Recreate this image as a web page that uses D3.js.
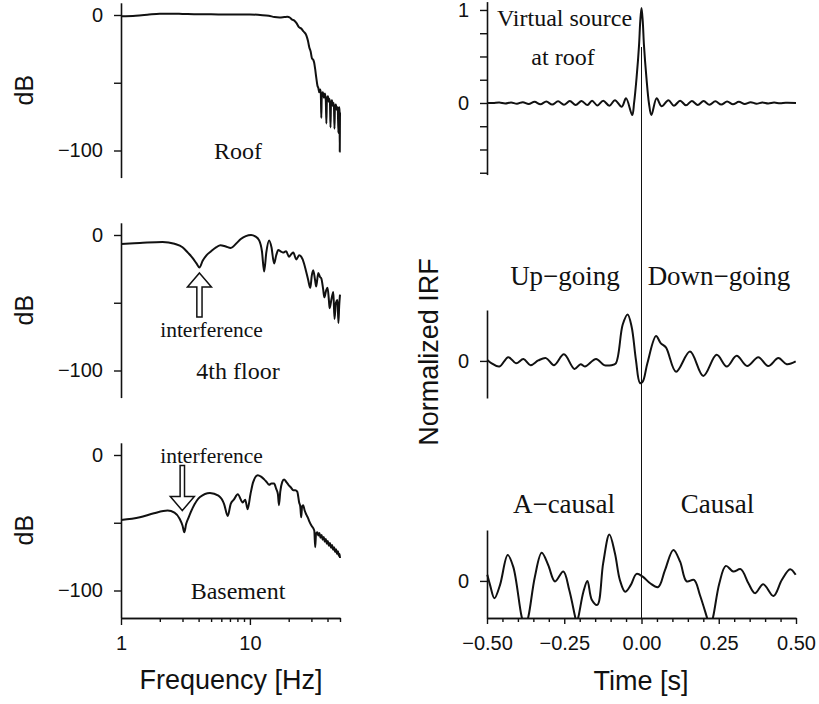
<!DOCTYPE html>
<html>
<head>
<meta charset="utf-8">
<title>Spectra and impulse response functions</title>
<script src="https://d3js.org/d3.v7.min.js"></script>
<style>
  body { margin: 0; background: #fff; }
  .tick text { font-family: "Liberation Sans", Arial, sans-serif; font-size: 20px; fill: #111; }
  .title { font-family: "Liberation Sans", Arial, sans-serif; fill: #111; }
  .note { font-family: "Liberation Serif", "Times New Roman", serif; fill: #111; }
</style>
</head>
<body>
<svg id="chart" width="819" height="704"></svg>
<script>
// ---- data ----
// amplitude spectra [frequency Hz, dB]
const roofSpectrum = [[1,-1],[1.3,-0.5],[1.6,0.2],[2,1],[2.5,1],[3,0.8],[4,0.5],[5,0.5],[6.5,0.3],[8,0.3],[10,0.4],[12,0],[14,-0.5],[15.5,-1.5],[17,-1.8],[18.5,-1.5],[19.5,-1.3],[20.5,-2],[21.3,-3.5],[22,-4],[23,-6],[24,-9],[25,-10],[26,-12],[27.4,-15],[28.2,-19],[28.9,-24],[29.6,-27],[30.3,-32],[31,-33],[31.5,-35],[32.1,-40],[32.7,-46],[33.4,-52],[34,-54],[34.5,-57],[35.1,-55],[35.5,-58],[35.8,-76],[36.1,-60],[36.8,-57],[37.5,-61],[38.2,-58],[38.8,-63],[39.2,-80],[39.6,-62],[40.3,-60],[41,-64],[41.7,-62],[42.2,-83],[42.6,-65],[43.3,-63],[44,-67],[44.8,-65],[45.3,-84],[45.7,-68],[46.4,-66],[47.2,-70],[48,-68],[48.6,-87],[48.9,-70],[49.3,-68],[49.6,-71],[49.8,-101],[50,-72]];
const floor4Spectrum = [[1,-6.6],[1.4,-5.9],[2.1,-5.1],[2.6,-6.5],[3.0,-9],[3.3,-13],[3.6,-17],[3.85,-21],[4.06,-24],[4.3,-19],[4.6,-15],[5.0,-12],[5.5,-9],[5.9,-7.5],[6.5,-8.5],[7.1,-9.6],[7.8,-6.5],[8.5,-3],[9.3,-0.8],[10.2,0],[11,-1],[11.8,-4],[12.4,-12],[12.9,-27],[13.4,-13],[14.1,-4],[14.7,-9],[15.4,-21],[16,-15],[16.6,-11],[17.3,-12],[18.1,-13],[19.1,-12],[20.1,-16],[21,-14],[21.7,-13],[22.9,-18],[24.1,-15],[25,-16],[26.3,-21],[27.3,-27],[28.3,-33],[29.4,-39],[30.2,-30],[31,-26],[32,-33],[32.7,-38],[33.9,-28],[35,-31],[35.8,-32],[37,-40],[37.8,-46],[39,-41],[40,-39],[41,-48],[41.5,-54],[43,-47],[44.4,-42],[45.3,-62],[46.5,-50],[47.8,-48],[48.6,-65],[49.3,-52],[50,-44]];
const basementSpectrum = [[1,-48],[1.4,-46],[1.8,-43],[2.3,-41],[2.6,-42.5],[2.85,-47],[3.0,-52],[3.1,-57],[3.2,-51],[3.35,-46],[3.6,-39],[4.1,-31],[4.9,-28],[5.7,-30],[6.3,-36],[6.73,-45],[7.1,-36],[7.5,-33],[8.05,-29],[8.8,-35],[9.2,-33],[9.6,-40],[10.1,-29],[10.6,-20],[11.5,-15],[12.2,-16],[12.9,-18],[13.5,-20],[14.1,-22],[14.7,-21],[15.4,-21],[16,-25],[16.5,-29],[16.8,-37],[17.2,-27],[17.8,-20],[18.4,-18],[19.2,-20],[19.9,-22],[20.8,-24],[21.7,-26],[22.5,-26],[23.3,-27],[24.1,-35],[24.6,-38],[25,-46],[25.4,-38],[25.9,-37],[26.6,-41],[27.4,-44],[28.1,-46],[28.9,-49],[30,-52],[31,-54],[31.6,-56],[32.1,-68],[32.6,-58],[33.3,-57],[34,-59.5],[34.6,-57.5],[35.3,-61],[36,-59],[36.7,-62.5],[37.4,-60.5],[38.1,-64],[38.8,-62],[39.5,-65.5],[40.2,-63.5],[41,-67],[41.8,-65],[42.6,-68.5],[43.4,-66.5],[44.2,-70],[45,-68],[45.8,-71.5],[46.6,-69.5],[47.4,-73],[48.2,-71],[49,-74.5],[49.6,-73],[50,-76]];

// normalized impulse response functions [time s, amplitude]
const irfRoof = [[-0.5,0],[-0.48,0],[-0.46,0.004],[-0.441,-0.005],[-0.422,0.006],[-0.403,-0.008],[-0.384,0.009],[-0.365,-0.011],[-0.346,0.012],[-0.327,-0.014],[-0.308,0.015],[-0.289,-0.017],[-0.27,0.018],[-0.251,-0.019],[-0.232,0.02],[-0.213,-0.021],[-0.194,0.022],[-0.175,-0.023],[-0.16,0.024],[-0.143,-0.026],[-0.124,0.025],[-0.104,-0.03],[-0.086,0.03],[-0.064,-0.04],[-0.05,0.05],[-0.03,-0.13],[-0.024,0],[-0.016,0.27],[-0.008,0.62],[-0.004,0.88],[0,1.02],[0.004,0.88],[0.008,0.62],[0.016,0.27],[0.024,0],[0.032,-0.13],[0.049,0.05],[0.065,-0.035],[0.087,0.03],[0.105,-0.03],[0.125,0.025],[0.144,-0.025],[0.163,0.022],[0.182,-0.021],[0.201,0.02],[0.22,-0.019],[0.239,0.018],[0.258,-0.017],[0.277,0.015],[0.296,-0.014],[0.315,0.012],[0.334,-0.011],[0.353,0.009],[0.372,-0.008],[0.391,0.006],[0.41,-0.005],[0.429,0.004],[0.448,-0.003],[0.467,0.002],[0.5,0]];
const irf4th = [[-0.499,0.02],[-0.485,-0.05],[-0.46,-0.12],[-0.431,0.08],[-0.406,-0.05],[-0.382,0.04],[-0.359,-0.09],[-0.334,0.01],[-0.309,0.06],[-0.283,-0.09],[-0.251,0.14],[-0.217,-0.17],[-0.197,-0.07],[-0.183,-0.12],[-0.147,0.04],[-0.121,-0.09],[-0.097,-0.09],[-0.083,-0.05],[-0.061,0.77],[-0.045,0.99],[-0.032,0.73],[-0.018,0.02],[-0.005,-0.47],[0.004,-0.44],[0.019,-0.05],[0.047,0.53],[0.062,0.38],[0.079,0.29],[0.112,-0.23],[0.157,0.2],[0.2,-0.32],[0.243,0.13],[0.276,-0.12],[0.308,0.11],[0.342,-0.11],[0.378,0.08],[0.41,-0.11],[0.443,0.06],[0.47,-0.07],[0.499,-0.01]];
const irfBasement = [[-0.499,0.13],[-0.49,-0.09],[-0.476,-0.37],[-0.458,-0.09],[-0.433,0.55],[-0.415,0.3],[-0.388,-0.76],[-0.377,-1.0],[-0.366,-0.76],[-0.345,0.09],[-0.323,0.6],[-0.302,0.34],[-0.28,-0.01],[-0.253,0.2],[-0.234,-0.19],[-0.215,-0.76],[-0.21,-0.9],[-0.204,-0.76],[-0.188,-0.23],[-0.175,0],[-0.161,-0.4],[-0.143,-0.51],[-0.124,0.38],[-0.104,0.99],[-0.086,0.59],[-0.07,0.02],[-0.053,-0.23],[-0.035,-0.09],[-0.016,0.15],[0.004,0.09],[0.028,-0.05],[0.054,-0.13],[0.076,0.23],[0.103,0.66],[0.125,0.41],[0.146,-0.01],[0.17,0.02],[0.189,-0.3],[0.211,-0.76],[0.222,-1.0],[0.232,-0.76],[0.252,-0.05],[0.273,0.32],[0.297,0.2],[0.321,0.25],[0.346,-0.05],[0.367,-0.26],[0.394,-0.07],[0.427,-0.32],[0.454,0.02],[0.481,0.25],[0.499,0.13]];

// ticks and labels
const dbTicks = [0, -50, -100];
const dbTickLabels = ["0", "", "\u2212100"];
const freqMajorTicks = [1, 10];
const freqTickLabels = ["1", "10"];
const freqMinorTicks = [2, 3, 4, 5, 6, 7, 8, 9, 20, 30, 40, 50];
const timeMajorTicks = [-0.5, -0.25, 0, 0.25, 0.5];
const timeTickLabels = ["\u22120.50", "\u22120.25", "0.00", "0.25", "0.50"];
const timeMinorTicks = [-0.45, -0.4, -0.35, -0.3, -0.2, -0.15, -0.1, -0.05, 0.05, 0.1, 0.15, 0.2, 0.3, 0.35, 0.4, 0.45];
const irfRoofTicks = [-0.75, -0.5, -0.25, 0, 0.25, 0.5, 0.75, 1];
const spectrumNames = ["Roof", "4th floor", "Basement"];
const arrowFreq = [4.06, 2.99];   // interference notch, 4th floor and basement
const arrowDb = [-28, -41];

const svg = d3.select("#chart");

// ---- left column: spectra ----
const fx = d3.scaleLog().domain([1, 50]).range([121, 340]);
const leftTops = [2.8, 222.8, 442.8];
const spectra = [roofSpectrum, floor4Spectrum, basementSpectrum];
const nameY = [159, 379, 599];

function styleAxis(g) {
  g.select(".domain").attr("stroke", "#111").attr("stroke-width", 1.6);
  g.selectAll(".tick line").attr("stroke", "#111").attr("stroke-width", 1.4);
  g.attr("font-family", null).attr("font-size", null);
}

const dbScales = leftTops.map(top => d3.scaleLinear().domain([9, -120]).range([top, top + 174.8]));

dbScales.forEach((y, i) => {
  svg.append("g").attr("transform", "translate(121,0)")
    .call(d3.axisLeft(y).tickValues(dbTicks).tickFormat((d, j) => dbTickLabels[j])
      .tickSize(7).tickSizeOuter(0).tickPadding(11))
    .call(styleAxis);

  svg.append("path").datum(spectra[i])
    .attr("fill", "none").attr("stroke", "#111").attr("stroke-width", 2)
    .attr("stroke-linejoin", "round")
    .attr("d", d3.line().x(d => fx(d[0])).y(d => y(d[1])).curve(d3.curveMonotoneX));

  svg.append("text").attr("class", "note").attr("font-size", 24)
    .attr("x", 238).attr("y", nameY[i]).attr("text-anchor", "middle")
    .text(spectrumNames[i]);

  svg.append("text").attr("class", "title").attr("font-size", 25)
    .attr("text-anchor", "middle")
    .attr("transform", `translate(33,${(y.range()[0] + y.range()[1]) / 2}) rotate(-90)`)
    .text("dB");
});

// frequency axis
svg.append("g").attr("transform", "translate(0,618)")
  .call(d3.axisBottom(fx).tickValues(freqMajorTicks).tickFormat((d, j) => freqTickLabels[j])
    .tickSize(7).tickSizeOuter(0).tickPadding(11))
  .call(styleAxis);
svg.append("g").attr("transform", "translate(0,618)")
  .call(d3.axisBottom(fx).tickValues(freqMinorTicks).tickFormat("").tickSize(4).tickSizeOuter(0))
  .call(styleAxis);

svg.append("text").attr("class", "title").attr("font-size", 27)
  .attr("x", 231).attr("y", 689).attr("text-anchor", "middle").text("Frequency [Hz]");

// interference arrows (hollow)
const upArrow = [[0,0],[12,14],[2.6,14],[2.6,44],[-2.6,44],[-2.6,14],[-12,14]];
const downArrow = [[0,0],[12,-14],[2.2,-14],[2.2,-45],[-2.2,-45],[-2.2,-14],[-12,-14]];
[[upArrow, dbScales[1]], [downArrow, dbScales[2]]].forEach(([shape, y], i) => {
  const tx = fx(arrowFreq[i]), ty = y(arrowDb[i]);
  svg.append("path")
    .attr("d", d3.line()(shape.map(p => [tx + p[0], ty + p[1]])) + "Z")
    .attr("fill", "#fff").attr("stroke", "#111").attr("stroke-width", 1.5)
    .attr("stroke-linejoin", "miter");
});
svg.append("text").attr("class", "note").attr("font-size", 21.5)
  .attr("x", 211.5).attr("y", 337).attr("text-anchor", "middle").text("interference");
svg.append("text").attr("class", "note").attr("font-size", 21.5)
  .attr("x", 211.5).attr("y", 463).attr("text-anchor", "middle").text("interference");

// ---- right column: impulse response functions ----
const tx = d3.scaleLinear().domain([-0.5, 0.5]).range([487, 796]);
const irfScales = [
  d3.scaleLinear().domain([1.09, -0.77]).range([1.6, 174.6]),
  d3.scaleLinear().domain([1.085, -0.79]).range([310, 398]),
  d3.scaleLinear().domain([1.085, -0.79]).range([530, 618])
];
const irfs = [irfRoof, irf4th, irfBasement];

// zero-lag line
svg.append("line")
  .attr("x1", tx(0)).attr("x2", tx(0)).attr("y1", 47).attr("y2", 618)
  .attr("stroke", "#111").attr("stroke-width", 1);

irfScales.forEach((y, i) => {
  const ticks = i === 0 ? irfRoofTicks : [0];
  svg.append("g").attr("transform", "translate(487,0)")
    .call(d3.axisLeft(y).tickValues(ticks)
      .tickFormat(d => (d === 0 || d === 1) ? d3.format("d")(d) : "")
      .tickSize(7).tickSizeOuter(0).tickPadding(11))
    .call(styleAxis);

  const clipId = "clip" + i;
  svg.append("clipPath").attr("id", clipId).append("rect")
    .attr("x", 480).attr("width", 330)
    .attr("y", y.range()[0] - 5).attr("height", y.range()[1] - y.range()[0] + 5);

  svg.append("path").datum(irfs[i])
    .attr("clip-path", `url(#${clipId})`)
    .attr("fill", "none").attr("stroke", "#111").attr("stroke-width", 2)
    .attr("stroke-linejoin", "round")
    .attr("d", d3.line().x(d => tx(d[0])).y(d => y(d[1])).curve(d3.curveCatmullRom.alpha(0.5)));
});

// time axis
svg.append("g").attr("transform", "translate(0,618)")
  .call(d3.axisBottom(tx).tickValues(timeMajorTicks).tickFormat((d, j) => timeTickLabels[j])
    .tickSize(6).tickSizeOuter(0).tickPadding(12))
  .call(styleAxis);
svg.append("g").attr("transform", "translate(0,618)")
  .call(d3.axisBottom(tx).tickValues(timeMinorTicks).tickFormat("").tickSize(4).tickSizeOuter(0))
  .call(styleAxis);

svg.append("text").attr("class", "title").attr("font-size", 27)
  .attr("x", 641).attr("y", 690).attr("text-anchor", "middle").text("Time [s]");
svg.append("text").attr("class", "title").attr("font-size", 27)
  .attr("text-anchor", "middle")
  .attr("transform", "translate(438,352) rotate(-90)")
  .text("Normalized IRF");

// panel annotations
const irfNotes = [
  ["Virtual source", 564.5, 26, 24],
  ["at roof", 563, 65, 24],
  ["Up\u2212going", 565, 285, 27],
  ["Down\u2212going", 719, 285, 27],
  ["A\u2212causal", 564, 513, 27],
  ["Causal", 717.5, 513, 27]
];
svg.selectAll("text.irfnote").data(irfNotes).join("text")
  .attr("class", "note irfnote")
  .attr("x", d => d[1]).attr("y", d => d[2]).attr("font-size", d => d[3])
  .attr("text-anchor", "middle").text(d => d[0]);
</script>
</body>
</html>
